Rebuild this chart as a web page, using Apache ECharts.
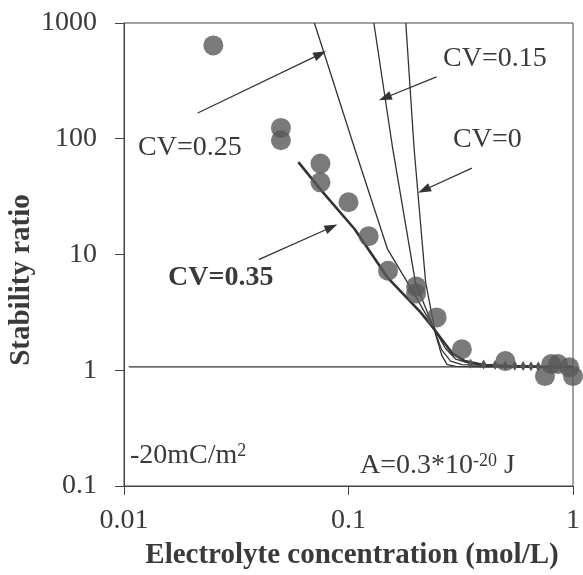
<!DOCTYPE html>
<html>
<head>
<meta charset="utf-8">
<script src="https://cdn.jsdelivr.net/npm/echarts/dist/echarts.min.js"></script>
<style>
  html, body { margin: 0; padding: 0; background: #ffffff; }
  #chart { width: 583px; height: 575px; }
</style>
</head>
<body>
<div id="chart"></div>
<script>
// Axis tick labels (log decades)
const xTickLabels = ['0.01', '0.1', '1'];
const yTickLabels = ['0.1', '1', '10', '100', '1000'];

// Measured stability ratios vs. electrolyte concentration (mol/L)
const measuredConc  = [0.025, 0.05, 0.05, 0.075, 0.075, 0.1, 0.123, 0.15, 0.2, 0.2, 0.247, 0.32, 0.5, 0.75, 0.8, 0.857, 0.963, 1.0];
const measuredRatio = [640, 124, 97, 61, 42, 28.3, 14.4, 7.24, 5.3, 4.6, 2.86, 1.52, 1.2, 0.89, 1.13, 1.13, 1.06, 0.89];

// Model curves for different coefficients of variation: [concentration, stability ratio]
const cv0Curve  = [[0.18, 1000], [0.196, 82], [0.2206, 5.74], [0.245, 2.0], [0.26, 1.35], [0.275, 1.12], [0.3, 1.08], [0.4, 1.07], [1, 1.07]];
const cv15Curve = [[0.1297, 1000], [0.1574, 82], [0.1986, 5.74], [0.238, 2.4], [0.26, 1.5], [0.285, 1.2], [0.32, 1.12], [0.4, 1.1], [0.5, 1.09], [0.7, 1.08], [1, 1.07]];
const cv25Curve = [[0.0705, 1000], [0.1066, 82], [0.149, 11.2], [0.183, 5.74], [0.2405, 2.3], [0.27, 1.55], [0.3, 1.25], [0.35, 1.14], [0.4, 1.12], [0.45, 1.11], [0.5, 1.1], [0.55, 1.095], [0.6, 1.09], [0.65, 1.085], [0.7, 1.08], [1, 1.07]];
const cv35Curve = [[0.0598, 62.8], [0.0758, 35.6], [0.1064, 16.6], [0.149, 6.35], [0.2096, 3.16], [0.2405, 2.27], [0.26, 1.85], [0.29, 1.4], [0.33, 1.2], [0.4, 1.11], [0.5, 1.085], [0.7, 1.075], [1, 1.07]];

// Fast-aggregation limit
const unityLine = [[0.0105, 1.07], [1, 1.07]];

// Annotation arrows (tail -> head) in data space
const cvArrows = [
  [[0.0213, 167], [0.0748, 539]],
  [[0.2466, 342], [0.1454, 226]],
  [[0.3546, 55.7], [0.2170, 36.1]],
  [[0.0398, 9.02], [0.0839, 17.2]]
];

const FONT = "'Liberation Serif', 'Times New Roman', serif";
const INK = '#3a3a3a';
const LINE = '#333333';

const chart = echarts.init(document.getElementById('chart'), null, { renderer: 'canvas' });

function thinCurve(name, data, width, markers) {
  return {
    name: name,
    type: 'line',
    data: data,
    smooth: false,
    showSymbol: !!markers,
    showAllSymbol: true,
    symbol: markers ? function (v) { return (v[0] >= 0.34 && v[0] <= 0.72) ? 'diamond' : 'none'; } : 'none',
    symbolSize: [6, 10],
    itemStyle: { color: '#555555' },
    lineStyle: { color: LINE, width: width },
    silent: true,
    z: 3
  };
}

const option = {
  animation: false,
  backgroundColor: '#ffffff',
  grid: {
    left: 124, right: 6, top: 23, bottom: 89,
    show: true, borderColor: '#444444', borderWidth: 1, backgroundColor: 'transparent'
  },
  xAxis: {
    type: 'log', logBase: 10, min: 0.01, max: 1,
    axisLine: { lineStyle: { color: '#444444', width: 1 } },
    axisTick: { inside: false, length: 9, lineStyle: { color: '#444444' } },
    minorTick: { show: false },
    splitLine: { show: false },
    axisLabel: {
      margin: 21, color: INK, fontFamily: FONT, fontSize: 28,
      formatter: function (v) { return xTickLabels[Math.round(Math.log10(v)) + 2]; }
    }
  },
  yAxis: {
    type: 'log', logBase: 10, min: 0.1, max: 1000,
    axisLine: { lineStyle: { color: '#444444', width: 1 } },
    axisTick: { inside: false, length: 9, lineStyle: { color: '#444444' } },
    minorTick: { show: false },
    splitLine: { show: false },
    axisLabel: {
      margin: 27, color: INK, fontFamily: FONT, fontSize: 28,
      formatter: function (v) { return yTickLabels[Math.round(Math.log10(v)) + 1]; }
    }
  },
  series: [
    {
      name: 'unity',
      type: 'line',
      data: unityLine,
      symbol: 'none',
      lineStyle: { color: LINE, width: 1.2 },
      silent: true,
      z: 2,
      markLine: {
        silent: true,
        symbol: ['none', 'triangle'],
        symbolSize: [9, 13],
        label: { show: false },
        lineStyle: { color: LINE, width: 1.3, type: 'solid' },
        data: cvArrows.map(function (a) { return [{ coord: a[0] }, { coord: a[1] }]; })
      }
    },
    thinCurve('CV=0', cv0Curve, 1.3, false),
    thinCurve('CV=0.15', cv15Curve, 1.3, false),
    thinCurve('CV=0.25', cv25Curve, 1.3, true),
    thinCurve('CV=0.35', cv35Curve, 2.6, false),
    {
      name: 'measured',
      type: 'scatter',
      data: measuredConc.map(function (c, i) { return [c, measuredRatio[i]]; }),
      symbol: 'circle',
      symbolSize: 20,
      itemStyle: { color: '#595959' },
      clip: false,
      silent: true,
      z: 5
    }
  ],
  graphic: [
    { type: 'text', x: 22, y: 280, rotation: Math.PI / 2,
      style: { text: 'Stability ratio', fill: INK, font: "bold 29px 'Liberation Serif', serif", align: 'center', verticalAlign: 'middle' } },
    { type: 'text', x: 352, y: 556,
      style: { text: 'Electrolyte concentration (mol/L)', fill: INK, font: "bold 29px 'Liberation Serif', serif", align: 'center', verticalAlign: 'middle' } },
    { type: 'text', x: 138, y: 148,
      style: { text: 'CV=0.25', fill: INK, font: "28px 'Liberation Serif', serif", align: 'left', verticalAlign: 'middle' } },
    { type: 'text', x: 443, y: 59,
      style: { text: 'CV=0.15', fill: INK, font: "28px 'Liberation Serif', serif", align: 'left', verticalAlign: 'middle' } },
    { type: 'text', x: 453, y: 140,
      style: { text: 'CV=0', fill: INK, font: "28px 'Liberation Serif', serif", align: 'left', verticalAlign: 'middle' } },
    { type: 'text', x: 168, y: 278,
      style: { text: 'CV=0.35', fill: INK, font: "bold 28px 'Liberation Serif', serif", align: 'left', verticalAlign: 'middle' } },
    { type: 'text', x: 130, y: 456,
      style: {
        text: '{a|-20mC/m}{s|2}', align: 'left', verticalAlign: 'middle',
        rich: {
          a: { fill: INK, fontFamily: FONT, fontSize: 28 },
          s: { fill: INK, fontFamily: FONT, fontSize: 18, verticalAlign: 'top' }
        }
      } },
    { type: 'text', x: 360, y: 466,
      style: {
        text: '{a|A=0.3*10}{s|-20}{a| J}', align: 'left', verticalAlign: 'middle',
        rich: {
          a: { fill: INK, fontFamily: FONT, fontSize: 28 },
          s: { fill: INK, fontFamily: FONT, fontSize: 18, verticalAlign: 'top' }
        }
      } }
  ]
};

chart.setOption(option);
</script>
</body>
</html>
